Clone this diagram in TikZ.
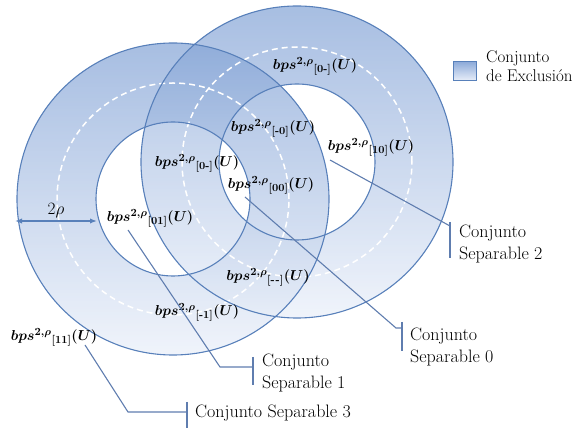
\documentclass[tikz,border=0pt]{standalone}
\usepackage{amsmath}
\usepackage{fontspec}
\usetikzlibrary{arrows.meta}

\definecolor{ringblue}{RGB}{120,155,210}
\definecolor{ringpale}{RGB}{232,238,249}
\definecolor{edgeblue}{RGB}{88,128,186}
\definecolor{tagblue}{RGB}{95,125,175}

\newcommand{\bps}[1]{{\boldmath$bps^{2,\rho}{}_{\text{\bfseries[#1]}}(U)$}}

\tikzset{
  ring/.style={top color=ringblue, bottom color=ringpale, fill opacity=0.65, even odd rule},
  rim/.style={draw=edgeblue, line width=1.1pt},
  midline/.style={draw=white, dash pattern=on 6pt off 4pt, line width=1.5pt},
  callout/.style={draw=tagblue, line width=1.1pt},
  bpslabel/.style={font=\fontsize{15.5}{18}\selectfont, inner sep=0pt},
  settext/.style={font=\fontsize{18}{21.5}\selectfont, align=left, anchor=west, inner sep=0pt}
}

\begin{document}
\begin{tikzpicture}[x=1pt, y=-1pt]
\useasboundingbox (0,0) rectangle (587,435);

% Ring centres
\coordinate (L) at (173,199);
\coordinate (R) at (297,162);

% Rings
\shade[ring] (L) circle (156pt) (L) circle (77pt);
\shade[ring] (R) circle (156pt) (R) circle (78pt);

% Middle lines
\draw[midline] (L) circle (116pt);
\draw[midline] (R) circle (115pt);

% Rims
\draw[rim] (L) circle (156pt);
\draw[rim] (L) circle (77pt);
\draw[rim] (R) circle (156pt);
\draw[rim] (R) circle (78pt);

% Width arrow
\coordinate (wl) at (15,221);
\coordinate (wr) at (97,221);
\draw[edgeblue, line width=1.3pt, {Latex[length=7pt]}-{Latex[length=7pt]}] (wl) -- (wr);
\node[font=\fontsize{18}{20}\selectfont, inner sep=0pt] (rho) at (56,211) {$2\rho$};

% Labels
\node[bpslabel] (b0m) at (315,66) {\bps{0-}};
\node[bpslabel] (bm0) at (273,128) {\bps{-0}};
\node[bpslabel] (b0mb) at (197,163) {\bps{0-}};
\node[bpslabel] (b00) at (271,185) {\bps{00}};
\node[bpslabel] (b10) at (371,147) {\bps{10}};
\node[bpslabel] (b01) at (150,218) {\bps{01}};
\node[bpslabel] (bmm) at (268,277) {\bps{-\hspace{0.8pt}-}};
\node[bpslabel] (bm1) at (197,312) {\bps{-1}};
\node[bpslabel] (b11) at (54,337) {\bps{11}};

% Callouts
\coordinate (p01) at (128,230);
\coordinate (k1) at (220,367);
\coordinate (t1) at (253,367);
\draw[callout] (p01) -- (k1) -- (t1);
\draw[callout] (253,357) -- (253,385);
\node[settext] (sep1) at (262,373) {Conjunto\\Separable 1};

\coordinate (p11) at (85,345);
\coordinate (k3) at (128,412);
\coordinate (t3) at (187,412);
\draw[callout] (p11) -- (k3) -- (t3);
\draw[callout] (187,402) -- (187,428);
\node[settext] (sep3) at (195,413) {Conjunto Separable 3};

\coordinate (p00) at (245,197);
\coordinate (k0) at (396,328);
\coordinate (t0) at (402,328);
\draw[callout] (p00) -- (k0) -- (t0);
\draw[callout] (402,322) -- (402,351);
\node[settext] (sep0) at (410,347) {Conjunto\\Separable 0};

\coordinate (p10) at (330,160);
\coordinate (t2) at (450,226);
\draw[callout] (p10) -- (t2);
\draw[callout] (450,222) -- (450,258);
\node[settext] (sep2) at (459,244) {Conjunto\\Separable 2};

% Legend
\node[draw=edgeblue, line width=1.5pt, top color=ringblue!85, bottom color=ringpale,
      minimum width=23pt, minimum height=19pt, inner sep=0pt] (key) at (465,71) {};
\node[settext, font=\fontsize{17}{19}\selectfont] (keytext) at (486,66) {Conjunto\\de Exclusión};
\end{tikzpicture}
\end{document}
